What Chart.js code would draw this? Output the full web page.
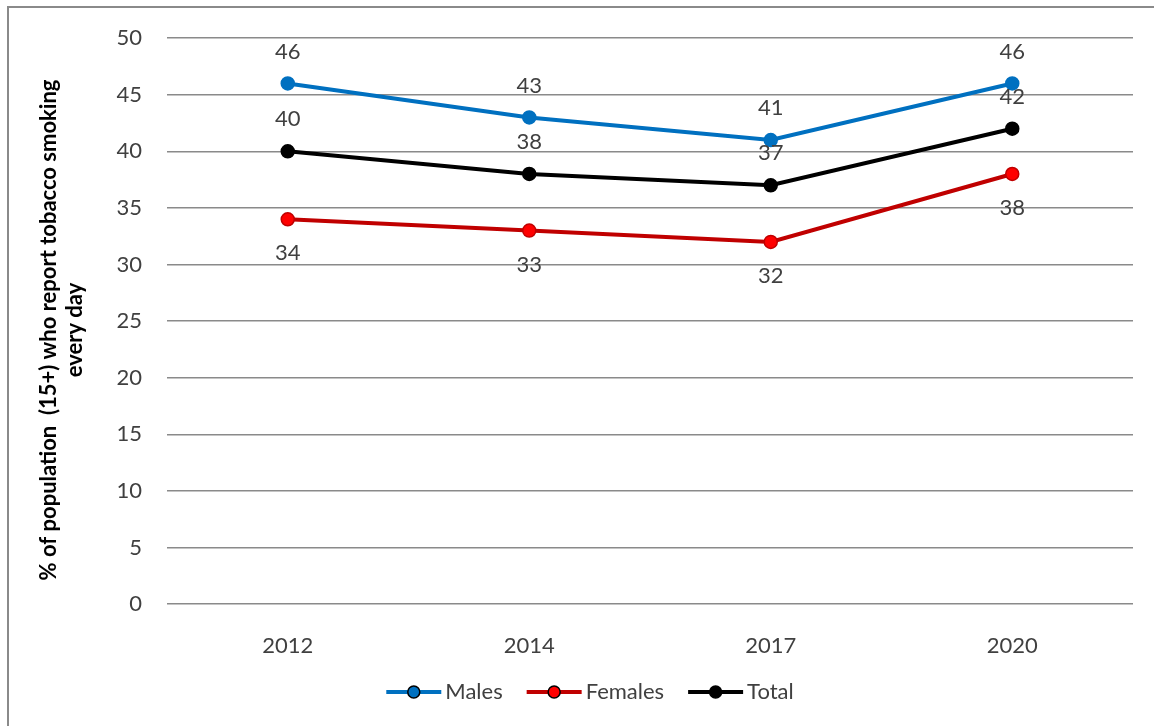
<!DOCTYPE html>
<html>
<head>
<meta charset="utf-8">
<script src="https://cdn.jsdelivr.net/npm/chart.js@4.4.1/dist/chart.umd.min.js"></script>
<style>
  html, body { margin: 0; padding: 0; background: #fff; }
  canvas { display: block; }
</style>
</head>
<body>
<canvas id="smoking" width="1154" height="726"></canvas>
<script>
const years = ['2012', '2014', '2017', '2020'];
const males = [46, 43, 41, 46];
const females = [34, 33, 32, 38];
const total = [40, 38, 37, 42];
const yTitle = ['% of population  (15+) who report tobacco smoking', 'every day'];

const FONT = 'Lato, "Open Sans", sans-serif';
const TEXT = '#404040';

// value labels above / below each point, plus the frame, axis title and legend
const extras = {
  id: 'extras',
  afterDatasetsDraw(chart) {
    const ctx = chart.ctx;
    ctx.save();
    ctx.font = '22px ' + FONT;
    ctx.fillStyle = TEXT;
    ctx.textAlign = 'center';
    ctx.textBaseline = 'middle';
    chart.data.datasets.forEach((ds, i) => {
      const meta = chart.getDatasetMeta(i);
      meta.data.forEach((pt, j) => {
        ctx.fillText(String(ds.data[j]), pt.x, pt.y + ds.labelShift);
      });
    });
    ctx.restore();
  },
  afterDraw(chart) {
    const ctx = chart.ctx;
    ctx.save();

    // outer frame (left + top edges visible)
    ctx.strokeStyle = '#8a8a8a';
    ctx.lineWidth = 2;
    ctx.beginPath();
    ctx.moveTo(8, 726);
    ctx.lineTo(8, 7);
    ctx.lineTo(1154, 7);
    ctx.stroke();

    // y axis title
    ctx.translate(62, 330);
    ctx.rotate(-Math.PI / 2);
    ctx.font = 'bold 22px ' + FONT;
    ctx.fillStyle = '#000';
    ctx.textAlign = 'center';
    ctx.textBaseline = 'middle';
    ctx.fillText(yTitle[0], 0, -13);
    ctx.fillText(yTitle[1], 0, 13);
    ctx.setTransform(1, 0, 0, 1, 0, 0);

    // legend
    ctx.font = '22px ' + FONT;
    const lineLen = 55, gap = 4, itemGap = 24, y = 692;
    const items = chart.data.datasets.map(ds => ({
      ds, w: lineLen + gap + ctx.measureText(ds.label).width
    }));
    const totalW = items.reduce((s, it) => s + it.w, 0) + itemGap * (items.length - 1);
    let x = 590 - totalW / 2;
    items.forEach(it => {
      const ds = it.ds;
      ctx.strokeStyle = ds.borderColor;
      ctx.lineWidth = 4;
      ctx.beginPath();
      ctx.moveTo(x, y);
      ctx.lineTo(x + lineLen, y);
      ctx.stroke();
      ctx.beginPath();
      ctx.arc(x + lineLen / 2, y, 6, 0, Math.PI * 2);
      ctx.fillStyle = ds.pointBackgroundColor;
      ctx.fill();
      ctx.lineWidth = 1.5;
      ctx.strokeStyle = '#000';
      ctx.stroke();
      ctx.fillStyle = TEXT;
      ctx.textAlign = 'left';
      ctx.textBaseline = 'middle';
      ctx.fillText(ds.label, x + lineLen + gap, y);
      x += it.w + itemGap;
    });
    ctx.restore();
  }
};

new Chart(document.getElementById('smoking'), {
  type: 'line',
  data: {
    labels: years,
    datasets: [{
      label: 'Males',
      data: males,
      borderColor: '#0070c0',
      pointBackgroundColor: '#0070c0',
      labelShift: -32
    }, {
      label: 'Females',
      data: females,
      borderColor: '#c00000',
      pointBackgroundColor: '#ff0000',
      labelShift: 34
    }, {
      label: 'Total',
      data: total,
      borderColor: '#000000',
      pointBackgroundColor: '#000000',
      labelShift: -32
    }]
  },
  options: {
    responsive: false,
    animation: false,
    events: [],
    elements: {
      line: { borderWidth: 4, tension: 0 },
      point: { radius: 6.5, borderWidth: 1.5, borderColor: '#000' }
    },
    layout: { padding: { top: 35, right: 21, left: 0, bottom: 0 } },
    plugins: {
      legend: { display: false },
      tooltip: { enabled: false }
    },
    scales: {
      x: {
        offset: true,
        grid: { display: false },
        border: { display: false },
        ticks: { color: TEXT, font: { family: FONT, size: 22 }, padding: 21 },
        afterFit: s => { s.height = 122; }
      },
      y: {
        min: 0,
        max: 50,
        grid: { color: '#8a8a8a', lineWidth: 1.5, drawTicks: false },
        border: { display: false },
        ticks: { stepSize: 5, color: TEXT, font: { family: FONT, size: 22 }, padding: 25 },
        afterFit: s => { s.width = 167; }
      }
    }
  },
  plugins: [extras]
});
</script>
</body>
</html>
